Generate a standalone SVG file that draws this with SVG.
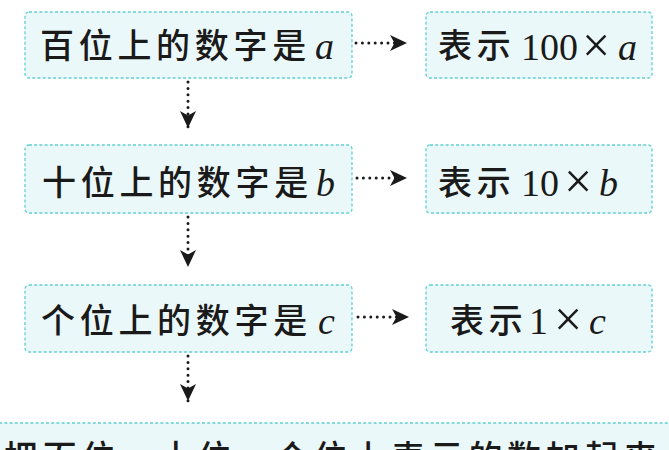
<svg xmlns="http://www.w3.org/2000/svg" width="669" height="450" viewBox="0 0 669 450">
<style>
.box{fill:#ebf8f9;stroke:#62cfd2;stroke-width:1.3;stroke-dasharray:3 2.2}
.cjk{font-family:"Noto Sans CJK SC","Noto Sans CJK JP",sans-serif;font-size:34px;font-weight:500;letter-spacing:4.7px;fill:#1a1a1a}
.lat{font-family:"Liberation Serif","Times New Roman",serif;font-size:38px;font-weight:normal;fill:#1a1a1a;letter-spacing:0}
.x{font-family:"Liberation Serif","Times New Roman",serif;font-size:50px;font-weight:normal;fill:#1a1a1a;letter-spacing:0}
.it{font-style:italic}
.conn{fill:none;stroke:#1a1a1a;stroke-width:3;stroke-linecap:round;stroke-dasharray:0 6.4}
</style>
<defs>
<marker id="ah" markerUnits="userSpaceOnUse" markerWidth="20" markerHeight="18" refX="17" refY="8" orient="auto">
<path d="M0,0 L17,8 L0,16 L4.5,8 z" fill="#1a1a1a"/>
</marker>
</defs>
<rect width="669" height="450" fill="#ffffff"/>
<g id="connectors">
<path class="conn" d="M356,43 L407,43" marker-end="url(#ah)"/>
<path class="conn" d="M357,178 L407,178" marker-end="url(#ah)"/>
<path class="conn" d="M358,317 L409,317" marker-end="url(#ah)"/>
<path class="conn" d="M188,82 L188,128" marker-end="url(#ah)"/>
<path class="conn" d="M188,217 L188,267" marker-end="url(#ah)"/>
<path class="conn" d="M188,356 L188,401" marker-end="url(#ah)"/>
</g>
<g id="hundreds">
<rect class="box" x="25" y="12" width="327" height="66" rx="4"/>
<text class="cjk" x="40" y="58">百位上的数字是<tspan class="lat it" x="315" y="59">a</tspan></text>
</g>
<g id="hundreds-value">
<rect class="box" x="426" y="12" width="226" height="66" rx="4"/>
<text class="cjk" x="438" y="58">表示<tspan class="lat" x="521" y="60">100</tspan><tspan class="x" x="582" y="62">×</tspan><tspan class="lat it" x="618" y="60">a</tspan></text>
</g>
<g id="tens">
<rect class="box" x="25" y="145" width="327" height="68" rx="4"/>
<text class="cjk" x="42" y="195">十位上的数字是<tspan class="lat it" x="316" y="196">b</tspan></text>
</g>
<g id="tens-value">
<rect class="box" x="426" y="145" width="226" height="68" rx="4"/>
<text class="cjk" x="438" y="195">表示<tspan class="lat" x="521" y="196">10</tspan><tspan class="x" x="564" y="198">×</tspan><tspan class="lat it" x="599" y="196">b</tspan></text>
</g>
<g id="ones">
<rect class="box" x="25" y="285" width="327" height="67" rx="4"/>
<text class="cjk" x="41" y="333">个位上的数字是<tspan class="lat it" x="318" y="334">c</tspan></text>
</g>
<g id="ones-value">
<rect class="box" x="426" y="285" width="226" height="67" rx="4"/>
<text class="cjk" x="450" y="333">表示<tspan class="lat" x="529" y="334">1</tspan><tspan class="x" x="554" y="336">×</tspan><tspan class="lat it" x="589" y="334">c</tspan></text>
</g>
<g id="sum">
<rect class="box" x="-10" y="423" width="690" height="70" rx="4"/>
<text class="cjk" x="4" y="470">把百位、十位、个位上表示的数加起来</text>
</g>
</svg>
